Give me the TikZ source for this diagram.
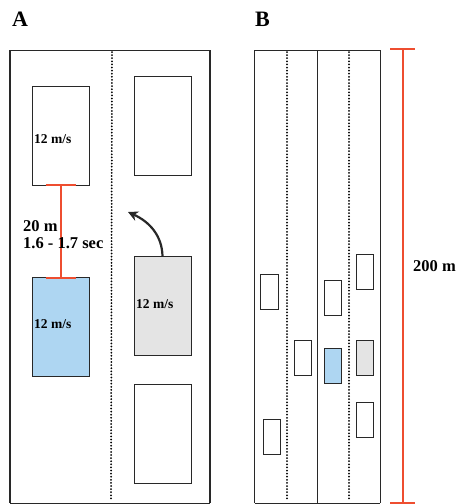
\documentclass[tikz,border=0pt]{standalone}
\usepackage{fontspec}
\setmainfont{Liberation Serif}
\usetikzlibrary{arrows.meta}
\definecolor{redline}{RGB}{238,78,48}
\definecolor{bluecar}{RGB}{174,214,242}
\definecolor{graycar}{RGB}{228,228,228}
\definecolor{edge}{RGB}{40,40,40}
\begin{document}
\begin{tikzpicture}[x=1pt,y=-1pt,
  road/.style={draw=edge,line width=0.9pt},
  roadthick/.style={draw=edge,line width=2pt},
  lanedots/.style={draw=black,line width=2pt,line cap=round,dash pattern=on 0pt off 3.1pt},
  bigcar/.style={draw=edge,line width=0.9pt,minimum width=57pt,minimum height=99pt,inner sep=0pt,outer sep=0pt},
  smallcar/.style={draw=edge,line width=0.9pt,minimum width=17.7pt,minimum height=35pt,inner sep=0pt,outer sep=0pt},
  speed/.style={font=\bfseries\fontsize{13.5}{15}\selectfont,anchor=west,inner sep=0pt},
  dimtext/.style={font=\bfseries\fontsize{16.5}{18}\selectfont,anchor=west,inner sep=0pt},
  dim/.style={draw=redline,line width=2pt},
  panel/.style={font=\bfseries\fontsize{22}{24}\selectfont,anchor=north west,inner sep=0pt}
]
\useasboundingbox (0,0) rectangle (459,504);
% Panel labels
\node[panel] (labA) at (12,12) {A};
\node[panel] (labB) at (255,12) {B};
% Panel A road
\coordinate (atl) at (10,50);
\coordinate (atr) at (210,50);
\coordinate (abl) at (10,503);
\coordinate (abr) at (210,503);
\draw[road] (atl) -- (atr);
\draw[road] (abl) -- (abr);
\draw[roadthick] (atl) -- (abl);
\draw[roadthick] (atr) -- (abr);
\coordinate (adt) at (112,52);
\coordinate (adb) at (111,501);
\draw[lanedots] (adt) -- (adb);
% Panel A cars
\node[bigcar] (car1) at (60.5,135.5) {};
\node[bigcar] (car2) at (162.5,126) {};
\node[bigcar,fill=bluecar] (blue) at (60.5,327) {};
\node[bigcar,fill=graycar] (gray) at (162.5,305.5) {};
\node[bigcar] (car3) at (162.5,433.5) {};
\node[speed] (s1) at (34,139) {12 m/s};
\node[speed] (s2) at (34,324) {12 m/s};
\node[speed] (s3) at (136,304) {12 m/s};
% Distance marker
\draw[dim] (car1.south) -- (blue.north);
\draw[dim] ([xshift=-15pt]car1.south) -- ([xshift=15pt]car1.south);
\draw[dim] ([xshift=-15pt]blue.north) -- ([xshift=15pt]blue.north);
\node[dimtext] (d1) at (23,226) {20 m};
\node[dimtext] (d2) at (23,243) {1.6 - 1.7 sec};
% Lane-change arrow
\coordinate (arrtip) at (128,212);
\draw[draw=edge,line width=2.2pt,-{Stealth[length=10pt,width=10pt]}] (gray.north) .. controls (162,236) and (150,222) .. (arrtip);
% Panel B road
\coordinate (bl1) at (254.5,50);
\coordinate (bl2) at (254.5,503);
\coordinate (bm1) at (317.5,50);
\coordinate (bm2) at (317.5,503);
\coordinate (br1) at (380,50);
\coordinate (br2) at (380,503);
\draw[road] (bl1) -- (br1);
\draw[road] (bl2) -- (br2);
\draw[road] (bl1) -- (bl2);
\draw[road,line width=1.4pt] (bm1) -- (bm2);
\draw[road] (br1) -- (br2);
\coordinate (bd1t) at (287,52);
\coordinate (bd1b) at (287,501);
\coordinate (bd2t) at (349,52);
\coordinate (bd2b) at (349,501);
\draw[lanedots] (bd1t) -- (bd1b);
\draw[lanedots] (bd2t) -- (bd2b);
% Panel B cars
\node[smallcar] (b1) at (269.5,292) {};
\node[smallcar] (b2) at (303,357.5) {};
\node[smallcar] (b3) at (272,436.5) {};
\node[smallcar] (b4) at (333,297.5) {};
\node[smallcar,fill=bluecar] (b5) at (333,365.5) {};
\node[smallcar] (b6) at (365,272) {};
\node[smallcar,fill=graycar] (b7) at (365,357.5) {};
\node[smallcar] (b8) at (365,420) {};
% 200 m marker
\coordinate (mt) at (402.5,49);
\coordinate (mb) at (402.5,503);
\draw[dim] (mt) -- (mb);
\draw[dim] (390,49) -- (415,49);
\draw[dim] (390,503) -- (415,503);
\node[dimtext] (len) at (413,266) {200 m};
\end{tikzpicture}
\end{document}
